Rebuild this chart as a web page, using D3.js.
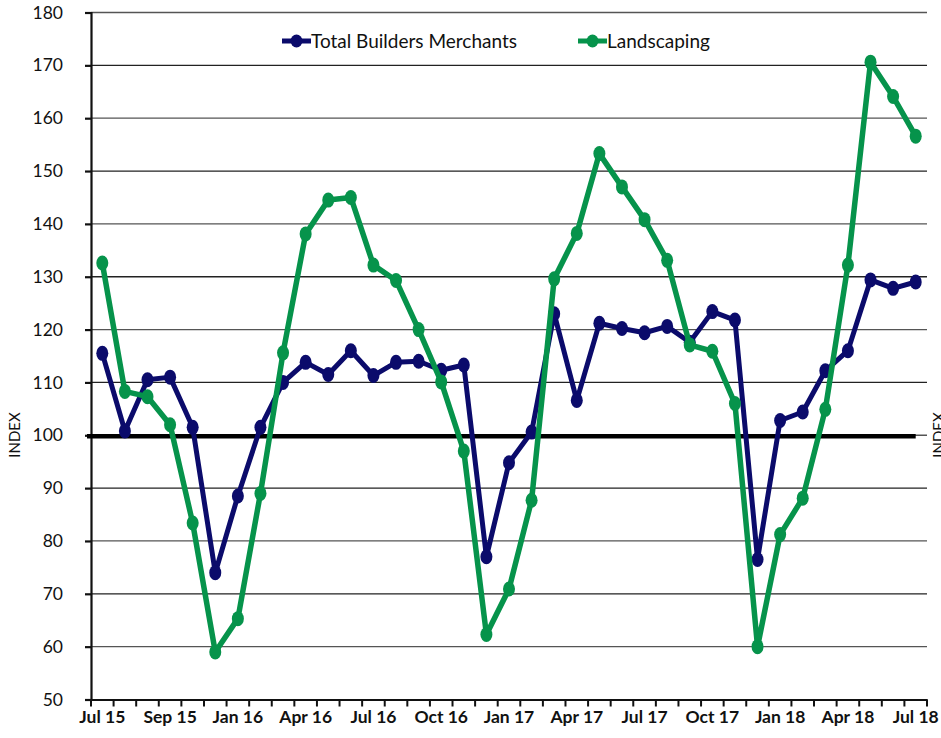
<!DOCTYPE html>
<html>
<head>
<meta charset="utf-8">
<script src="https://cdn.jsdelivr.net/npm/d3@7"></script>
<style>
  body { margin: 0; background: #fff; }
  svg { display: block; font-family: Lato, "Open Sans", sans-serif; }
</style>
</head>
<body>
<svg id="chart" width="941" height="738"></svg>
<script>
// months Jul 15 .. Jul 18
const months = ["Jul 15","Aug 15","Sep 15","Oct 15","Nov 15","Dec 15","Jan 16","Feb 16","Mar 16","Apr 16","May 16","Jun 16",
  "Jul 16","Aug 16","Sep 16","Oct 16","Nov 16","Dec 16","Jan 17","Feb 17","Mar 17","Apr 17","May 17","Jun 17",
  "Jul 17","Aug 17","Sep 17","Oct 17","Nov 17","Dec 17","Jan 18","Feb 18","Mar 18","Apr 18","May 18","Jun 18","Jul 18"];

// labels shown on the axis (every third month, as printed)
const tickLabels = ["Jul 15","Sep 15","Jan 16","Apr 16","Jul 16","Oct 16","Jan 17","Apr 17","Jul 17","Oct 17","Jan 18","Apr 18","Jul 18"];

const totalBM = [115.5,100.8,110.5,111,101.5,74,88.5,101.5,110,113.8,111.5,116,
  111.3,113.8,114,112.3,113.3,77,94.8,100.6,123,106.6,121.2,120.2,
  119.4,120.6,117.6,123.4,121.8,76.5,102.8,104.4,112.2,116,129.4,127.8,129];

const landscaping = [132.6,108.3,107.3,102,83.4,59,65.3,89,115.6,138.1,144.5,145,
  132.2,129.3,120,110.1,97,62.3,70.9,87.7,129.6,138.2,153.3,147,
  140.8,133.1,117.1,115.9,106,60,81.2,88.1,104.9,132.2,170.6,164.1,156.6];

const baseline = 99.8;
const yTicks = [50,60,70,80,90,100,110,120,130,140,150,160,170,180];

const svg = d3.select("#chart");
const plotLeft = 91, plotRight = 927, plotTop = 12.5, plotBottom = 699.5;

const x = d3.scaleBand().domain(months).range([plotLeft, plotRight]);
const y = d3.scaleLinear().domain([50, 180]).range([plotBottom, plotTop]);
const cx = d => x(d) + x.bandwidth() / 2;

// horizontal gridlines
svg.append("g")
  .selectAll("line")
  .data(yTicks.filter(t => t > 50))
  .enter().append("line")
  .attr("x1", plotLeft).attr("x2", plotRight)
  .attr("y1", d => y(d)).attr("y2", d => y(d))
  .attr("stroke", (d, i) => i % 2 ? "#222" : "#555")
  .attr("stroke-width", 1.3);

// y axis
const yAxis = svg.append("g")
  .attr("transform", `translate(${plotLeft},0)`)
  .call(d3.axisLeft(y).tickValues(yTicks).tickSize(6).tickPadding(22).tickFormat(d3.format("d")));
yAxis.select(".domain").attr("stroke", "#111").attr("stroke-width", 2.2);
yAxis.selectAll(".tick line").attr("stroke", "#111").attr("stroke-width", 2.2);
yAxis.selectAll("text").attr("font-size", 17.5).attr("fill", "#111").attr("font-family", "Lato, sans-serif");

// x axis, ticks between categories
const xAxis = svg.append("g")
  .attr("transform", `translate(0,${plotBottom})`)
  .call(d3.axisBottom(x).tickSize(0).tickFormat((d, i) => i % 3 === 0 ? tickLabels[i / 3] : ""));
xAxis.select(".domain").attr("stroke", "#111").attr("stroke-width", 2.2);
xAxis.selectAll("text")
  .attr("font-size", 17.5).attr("font-weight", "bold").attr("fill", "#111")
  .attr("font-family", "Lato, sans-serif").attr("dy", "1.15em");

const bounds = months.map(m => x(m)).concat([plotRight]);
xAxis.selectAll(".sep")
  .data(bounds)
  .enter().append("line")
  .attr("x1", d => d).attr("x2", d => d)
  .attr("y1", 0).attr("y2", 7)
  .attr("stroke", "#111").attr("stroke-width", 2);

// 100 reference line
svg.append("line")
  .attr("x1", plotLeft - 4).attr("x2", cx(months[months.length - 1]))
  .attr("y1", y(baseline)).attr("y2", y(baseline))
  .attr("stroke", "#000").attr("stroke-width", 4.5);

const series = [
  { name: "Total Builders Merchants", values: totalBM, color: "#0b0b6b", width: 5 },
  { name: "Landscaping", values: landscaping, color: "#06934b", width: 5.5 }
];

const line = d3.line().x((d, i) => cx(months[i])).y(d => y(d));

series.forEach(s => {
  svg.append("path")
    .datum(s.values)
    .attr("d", line)
    .attr("fill", "none")
    .attr("stroke", s.color)
    .attr("stroke-width", s.width)
    .attr("stroke-linejoin", "round");

  svg.append("g")
    .selectAll("ellipse")
    .data(s.values)
    .enter().append("ellipse")
    .attr("cx", (d, i) => cx(months[i]))
    .attr("cy", d => y(d))
    .attr("rx", 6).attr("ry", 7.5)
    .attr("fill", s.color);
});

// legend
const legendPos = [282, 578];
series.forEach((s, i) => {
  const g = svg.append("g").attr("transform", `translate(${legendPos[i]},41)`);
  g.append("line").attr("x1", 0).attr("x2", 29).attr("y1", 0).attr("y2", 0)
    .attr("stroke", s.color).attr("stroke-width", 5);
  g.append("ellipse").attr("cx", 14.5).attr("cy", 0).attr("rx", 6).attr("ry", 6.5).attr("fill", s.color);
  g.append("text").attr("x", 29).attr("y", 6.5)
    .attr("font-size", 19).attr("fill", "#111").text(s.name);
});

// axis titles
svg.append("text")
  .attr("transform", `translate(20,435) rotate(-90)`)
  .attr("text-anchor", "middle").attr("font-size", 15).attr("fill", "#111")
  .text("INDEX");
svg.append("text")
  .attr("transform", `translate(944,435) rotate(-90)`)
  .attr("text-anchor", "middle").attr("font-size", 15).attr("fill", "#111")
  .text("INDEX");
</script>
</body>
</html>
